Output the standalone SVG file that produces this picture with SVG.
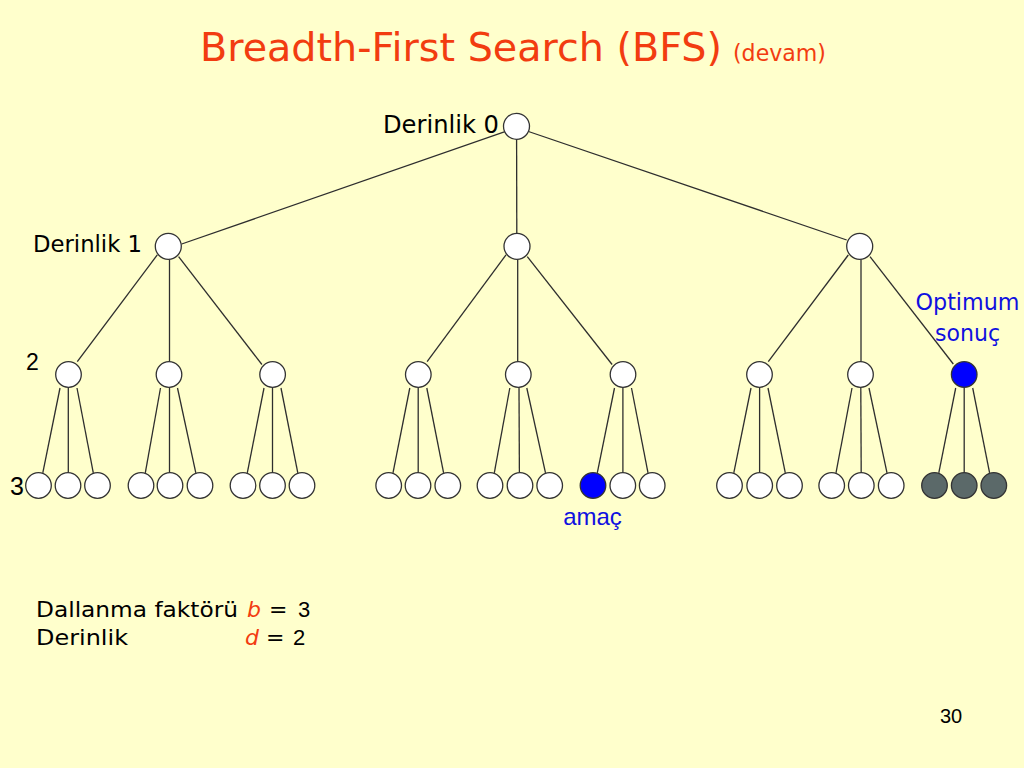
<svg xmlns="http://www.w3.org/2000/svg" width="1024" height="768" viewBox="0 0 1024 768">
<style>
.e{stroke:#2e2e2e;stroke-width:1.3;fill:none}
.n{fill:#ffffff;stroke:#333333;stroke-width:1.3}
.goal{fill:#0000ff;stroke:#333333;stroke-width:1.3}
.dk{fill:#5b6969;stroke:#333333;stroke-width:1.3}
.c{font-family:"DejaVu Sans",sans-serif}
.a{font-family:"Liberation Sans",Arial,sans-serif}
.red{fill:#f23c10}
.blue{fill:#1010e0}
</style>
<rect width="1024" height="768" fill="#ffffcc"/>
<text class="c red" x="200" y="61" font-size="39" textLength="522" lengthAdjust="spacingAndGlyphs">Breadth-First Search (BFS)</text>
<text class="c red" x="733" y="61" font-size="23" textLength="93" lengthAdjust="spacingAndGlyphs">(devam)</text>

<g id="connectors">
<line class="e" x1="505" y1="131.7" x2="181.7" y2="244"/>
<line class="e" x1="516.6" y1="139.3" x2="516.8" y2="233.3"/>
<line class="e" x1="528.5" y1="131.5" x2="846.7" y2="240"/>

<line class="e" x1="157.3" y1="254.8" x2="77.3" y2="361.7"/>
<line class="e" x1="169.5" y1="259.3" x2="169.5" y2="361.7"/>
<line class="e" x1="178.6" y1="256.7" x2="261.9" y2="364.5"/>
<line class="e" x1="506" y1="254.8" x2="427.1" y2="361.7"/>
<line class="e" x1="517.7" y1="259.3" x2="517.7" y2="361.7"/>
<line class="e" x1="527.3" y1="256.7" x2="612.1" y2="364.5"/>
<line class="e" x1="848.3" y1="255" x2="768.3" y2="361.7"/>
<line class="e" x1="861" y1="259.3" x2="861" y2="361.7"/>
<line class="e" x1="870" y1="256.7" x2="953.3" y2="364"/>

<line class="e" x1="60" y1="388" x2="42.8" y2="472.8"/>
<line class="e" x1="68.3" y1="387.3" x2="68.3" y2="472.7"/>
<line class="e" x1="77" y1="388" x2="93.3" y2="472.8"/>
<line class="e" x1="160.5" y1="388" x2="145.3" y2="472.8"/>
<line class="e" x1="169.5" y1="387.3" x2="169.5" y2="472.7"/>
<line class="e" x1="177.5" y1="388" x2="195.8" y2="472.8"/>
<line class="e" x1="264" y1="388" x2="247.3" y2="472.8"/>
<line class="e" x1="272.5" y1="387.3" x2="272.5" y2="472.7"/>
<line class="e" x1="281" y1="388" x2="297.8" y2="472.8"/>
<line class="e" x1="409.8" y1="388" x2="393" y2="472.8"/>
<line class="e" x1="418.2" y1="387.3" x2="418.2" y2="472.7"/>
<line class="e" x1="426.8" y1="388" x2="443.6" y2="472.8"/>
<line class="e" x1="509.8" y1="388" x2="494.3" y2="472.8"/>
<line class="e" x1="519" y1="387.3" x2="519.4" y2="472.7"/>
<line class="e" x1="526.8" y1="388" x2="545.5" y2="472.8"/>
<line class="e" x1="614.5" y1="388" x2="597.3" y2="472.8"/>
<line class="e" x1="622.9" y1="387.3" x2="622.9" y2="472.7"/>
<line class="e" x1="631.5" y1="388" x2="648" y2="472.8"/>
<line class="e" x1="751" y1="388" x2="733.8" y2="472.8"/>
<line class="e" x1="759.6" y1="387.3" x2="759.6" y2="472.7"/>
<line class="e" x1="768" y1="388" x2="785.3" y2="472.8"/>
<line class="e" x1="852" y1="388" x2="836" y2="472.8"/>
<line class="e" x1="860.8" y1="387.3" x2="861.2" y2="472.7"/>
<line class="e" x1="869" y1="388" x2="887" y2="472.8"/>
<line class="e" x1="955.7" y1="388" x2="938.8" y2="472.8"/>
<line class="e" x1="964.2" y1="387.3" x2="964.2" y2="472.7"/>
<line class="e" x1="972.7" y1="388" x2="989.6" y2="472.8"/>
</g>

<g id="root"><circle class="n" cx="516.5" cy="126.3" r="13"/><text class="c" x="383" y="133" font-size="24" textLength="116" lengthAdjust="spacingAndGlyphs">Derinlik 0</text></g>

<g id="n1a"><circle class="n" cx="168.3" cy="246.3" r="13"/><text class="c" x="33" y="252" font-size="23" textLength="109" lengthAdjust="spacingAndGlyphs">Derinlik 1</text></g>
<g id="n1b"><circle class="n" cx="517" cy="246.3" r="13"/></g>
<g id="n1c"><circle class="n" cx="859.7" cy="246.3" r="13"/></g>

<g id="n2a"><circle class="n" cx="68.5" cy="374.5" r="12.8"/><text class="a" x="26" y="370" font-size="23">2</text></g>
<g id="n2b"><circle class="n" cx="169" cy="374.5" r="12.8"/></g>
<g id="n2c"><circle class="n" cx="272.6" cy="374.5" r="12.8"/></g>
<g id="n2d"><circle class="n" cx="418.3" cy="374.5" r="12.8"/></g>
<g id="n2e"><circle class="n" cx="518.3" cy="374.5" r="12.8"/></g>
<g id="n2f"><circle class="n" cx="623" cy="374.5" r="12.8"/></g>
<g id="n2g"><circle class="n" cx="759.5" cy="374.5" r="12.8"/></g>
<g id="n2h"><circle class="n" cx="860.5" cy="374.5" r="12.8"/></g>
<g id="n2i"><circle class="goal" cx="964.2" cy="374.5" r="12.8"/><text class="c blue" x="967.5" y="310" font-size="23" text-anchor="middle" textLength="104" lengthAdjust="spacingAndGlyphs">Optimum</text><text class="c blue" x="967.5" y="341" font-size="23" text-anchor="middle" textLength="65" lengthAdjust="spacingAndGlyphs">sonuç</text></g>

<g id="n3a1"><circle class="n" cx="38.5" cy="485.5" r="12.8"/><text class="a" x="10" y="495" font-size="25">3</text></g>
<g id="n3a2"><circle class="n" cx="68" cy="485.5" r="12.8"/></g>
<g id="n3a3"><circle class="n" cx="97.5" cy="485.5" r="12.8"/></g>
<g id="n3b1"><circle class="n" cx="141" cy="485.5" r="12.8"/></g>
<g id="n3b2"><circle class="n" cx="170" cy="485.5" r="12.8"/></g>
<g id="n3b3"><circle class="n" cx="200" cy="485.5" r="12.8"/></g>
<g id="n3c1"><circle class="n" cx="243" cy="485.5" r="12.8"/></g>
<g id="n3c2"><circle class="n" cx="272.5" cy="485.5" r="12.8"/></g>
<g id="n3c3"><circle class="n" cx="302" cy="485.5" r="12.8"/></g>
<g id="n3d1"><circle class="n" cx="388.7" cy="485.5" r="12.8"/></g>
<g id="n3d2"><circle class="n" cx="418" cy="485.5" r="12.8"/></g>
<g id="n3d3"><circle class="n" cx="447.8" cy="485.5" r="12.8"/></g>
<g id="n3e1"><circle class="n" cx="490" cy="485.5" r="12.8"/></g>
<g id="n3e2"><circle class="n" cx="520" cy="485.5" r="12.8"/></g>
<g id="n3e3"><circle class="n" cx="549.7" cy="485.5" r="12.8"/></g>
<g id="n3f1"><circle class="goal" cx="593" cy="485.5" r="12.8"/><text class="a blue" x="592.5" y="525" font-size="24" text-anchor="middle">amaç</text></g>
<g id="n3f2"><circle class="n" cx="622.8" cy="485.5" r="12.8"/></g>
<g id="n3f3"><circle class="n" cx="652.2" cy="485.5" r="12.8"/></g>
<g id="n3g1"><circle class="n" cx="729.5" cy="485.5" r="12.8"/></g>
<g id="n3g2"><circle class="n" cx="759.7" cy="485.5" r="12.8"/></g>
<g id="n3g3"><circle class="n" cx="789.5" cy="485.5" r="12.8"/></g>
<g id="n3h1"><circle class="n" cx="831.7" cy="485.5" r="12.8"/></g>
<g id="n3h2"><circle class="n" cx="861.3" cy="485.5" r="12.8"/></g>
<g id="n3h3"><circle class="n" cx="891.2" cy="485.5" r="12.8"/></g>
<g id="n3i1"><circle class="dk" cx="934.5" cy="485.5" r="12.8"/></g>
<g id="n3i2"><circle class="dk" cx="964.2" cy="485.5" r="12.8"/></g>
<g id="n3i3"><circle class="dk" cx="993.8" cy="485.5" r="12.8"/></g>

<g id="legend">
<text class="c" x="36" y="617" font-size="22" textLength="202" lengthAdjust="spacingAndGlyphs">Dallanma faktörü</text>
<text class="c red" x="247" y="617" font-size="22" font-style="italic">b</text>
<text class="c" x="269" y="617" font-size="22">=</text>
<text class="a" x="298" y="617" font-size="22">3</text>
<text class="c" x="36" y="645" font-size="22" textLength="92" lengthAdjust="spacingAndGlyphs">Derinlik</text>
<text class="c red" x="245" y="645" font-size="22" font-style="italic">d</text>
<text class="c" x="266" y="645" font-size="22">=</text>
<text class="a" x="293" y="645" font-size="22">2</text>
</g>
<text class="a" x="940" y="723" font-size="20">30</text>
</svg>
